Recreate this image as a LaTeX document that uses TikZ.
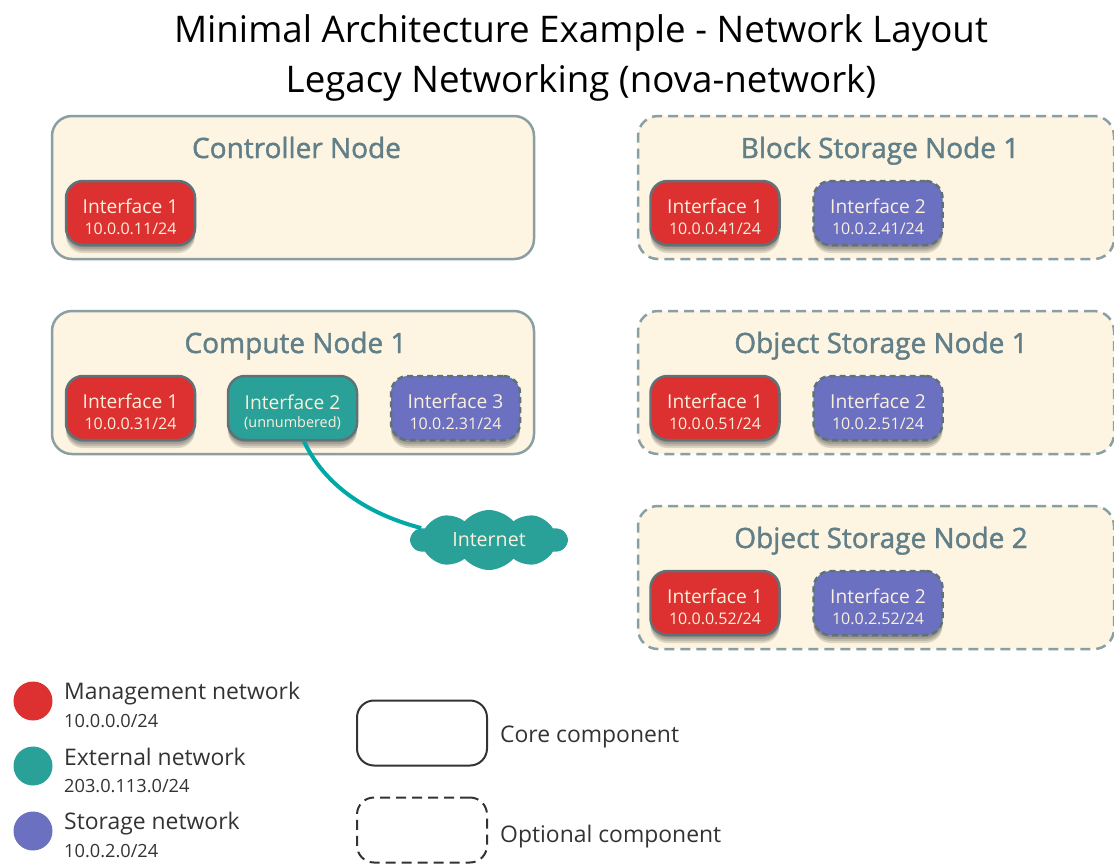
\documentclass[tikz,border=0pt]{standalone}
\usepackage{fontspec}
\setmainfont{Open Sans}
\newfontfamily\semifont[FakeBold=1.5]{Open Sans}
\usetikzlibrary{shapes.symbols,shadows}
\definecolor{mgmtred}{HTML}{DD3030}
\definecolor{exttea}{HTML}{2AA198}
\definecolor{storblue}{HTML}{6C70C0}
\definecolor{hostfill}{HTML}{FDF5E2}
\definecolor{hostline}{HTML}{8A9FA3}
\definecolor{hosttext}{HTML}{607F88}
\definecolor{ifline}{HTML}{5E7278}
\definecolor{iftext}{HTML}{FBF0DC}
\definecolor{linkteal}{HTML}{00A8A8}
\definecolor{legendtext}{HTML}{333333}
\tikzset{
  softshadow/.style={general shadow={shadow xshift=0pt, shadow yshift=#1, fill=black, opacity=0.13}},
  host/.style={draw=hostline, fill=hostfill, line width=2.5pt, rounded corners=20pt,
    minimum height=143pt, inner sep=0pt},
  optional/.style={dash pattern=on 10pt off 6pt},
  ifoptional/.style={dash pattern=on 6pt off 4pt},
  hosttitle/.style={anchor=base, text=hosttext, font=\fontsize{28}{30}\semifont},
  iface/.style={draw=ifline, line width=2.5pt, rounded corners=17pt, minimum width=129pt,
    minimum height=64pt, text=iftext, align=center, inner sep=0pt,
    font=\fontsize{19.2}{22}\selectfont,
    softshadow=-2pt, softshadow=-4pt, softshadow=-6pt, softshadow=-8pt},
  swatch/.style={circle, minimum size=39pt, inner sep=0pt},
  legendbox/.style={draw=legendtext, line width=2pt, rounded corners=17pt, minimum width=130pt, minimum height=65pt},
  legendname/.style={anchor=west, inner sep=0pt, text=legendtext, font=\fontsize{22.9}{26}\selectfont},
  legendaddr/.style={anchor=west, inner sep=0pt, text=legendtext, font=\fontsize{18.2}{20}\selectfont}
}
\newcommand{\ifrow}[2]{\rule{0pt}{22pt}#1\\[-1pt]{\fontsize{16}{18}\selectfont #2}}
\begin{document}
\begin{tikzpicture}[x=1pt,y=-1pt]
\useasboundingbox (0,0) rectangle (1114,863);
% title
\node[font=\fontsize{36.7}{50}\selectfont, align=center, text=black] (title) at (581,58)
  {Minimal Architecture Example - Network Layout\\Legacy Networking (nova-network)};
% left column
\node[host, minimum width=482pt] (controller) at (293,187.5) {};
\node[hosttitle] (controllertitle) at (296.5,158) {Controller Node};
\node[iface, fill=mgmtred] (controllerif1) at (130.5,213) {\ifrow{Interface 1}{10.0.0.11/24}};
\node[host, minimum width=482pt] (compute) at (293,382.5) {};
\node[hosttitle] (computetitle) at (295.5,353) {Compute Node 1};
\node[iface, fill=mgmtred] (computeif1) at (130.5,408) {\ifrow{Interface 1}{10.0.0.31/24}};
\node[iface, fill=exttea] (computeif2) at (292.5,408) {\rule{0pt}{24pt}Interface 2\\[-4pt]{\fontsize{14.4}{16}\selectfont (unnumbered)}};
\node[iface, fill=storblue, ifoptional] (computeif3) at (455.5,408) {\ifrow{Interface 3}{10.0.2.31/24}};
% right column
\node[host, optional, minimum width=476pt] (block) at (876,187.5) {};
\node[hosttitle] (blocktitle) at (880,158) {Block Storage Node 1};
\node[iface, fill=mgmtred] (blockif1) at (715,213) {\ifrow{Interface 1}{10.0.0.41/24}};
\node[iface, fill=storblue, ifoptional] (blockif2) at (878,213) {\ifrow{Interface 2}{10.0.2.41/24}};
\node[host, optional, minimum width=476pt] (objectone) at (876,382.5) {};
\node[hosttitle] (objectonetitle) at (881,353) {Object Storage Node 1};
\node[iface, fill=mgmtred] (objectoneif1) at (715,408) {\ifrow{Interface 1}{10.0.0.51/24}};
\node[iface, fill=storblue, ifoptional] (objectoneif2) at (878,408) {\ifrow{Interface 2}{10.0.2.51/24}};
\node[host, optional, minimum width=476pt] (objecttwo) at (876,577.5) {};
\node[hosttitle] (objecttwotitle) at (881,548) {Object Storage Node 2};
\node[iface, fill=mgmtred] (objecttwoif1) at (715,603) {\ifrow{Interface 1}{10.0.0.52/24}};
\node[iface, fill=storblue, ifoptional] (objecttwoif2) at (878,603) {\ifrow{Interface 2}{10.0.2.52/24}};
% internet cloud and its link
\node[cloud, cloud puffs=10, cloud puff arc=100, aspect=2.4, fill=exttea, draw=none, text=iftext,
  minimum width=156pt, minimum height=60pt, inner sep=0pt, font=\fontsize{19.6}{22}\selectfont] (internet) at (489,540) {Internet};
\draw[linkteal, line width=4pt] (computeif2.-71) .. controls (322,480) and (360,512) .. (internet.170);
% legend
\node[swatch, fill=mgmtred] (mgmtdot) at (33,701) {};
\node[legendname] (mgmtname) at (64,694) {Management network};
\node[legendaddr] (mgmtaddr) at (64,721) {10.0.0.0/24};
\node[swatch, fill=exttea] (extdot) at (33,766) {};
\node[legendname] (extname) at (64,757) {External network};
\node[legendaddr] (extaddr) at (64,786) {203.0.113.0/24};
\node[swatch, fill=storblue] (stordot) at (33,831) {};
\node[legendname] (storname) at (64,824) {Storage network};
\node[legendaddr] (storaddr) at (64,851) {10.0.2.0/24};
\node[legendbox] (corebox) at (422,733) {};
\node[legendname] (corename) at (500,737) {Core component};
\node[legendbox, optional] (optionalbox) at (422,830) {};
\node[legendname] (optionalname) at (500,837) {Optional component};
\end{tikzpicture}
\end{document}
